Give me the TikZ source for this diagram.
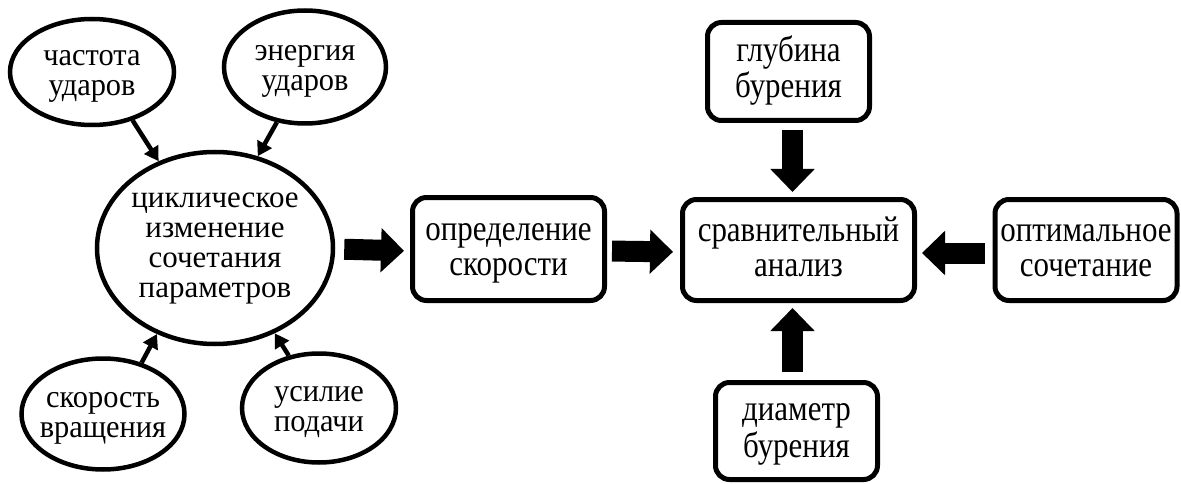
\documentclass[tikz,border=0pt]{standalone}
\usepackage{fontspec}
\setmainfont{Liberation Serif}
\newfontfamily\ovalfont[FakeStretch=0.95]{Liberation Serif}
\newfontfamily\boxfont[FakeStretch=0.86]{Liberation Serif}
\newcommand\mltext[1]{\makebox[0pt]{\begin{tabular}[b]{@{}c@{}}#1\end{tabular}}}
\usetikzlibrary{arrows.meta,shapes.geometric}
\begin{document}
\begin{tikzpicture}[x=1pt,y=-1pt,
  oval/.style={ellipse, draw, line width=4.5pt, inner sep=0pt,
    font=\ovalfont\fontsize{32}{30}\selectfont, text height=47pt, text depth=0pt},
  bigoval/.style={oval, font=\rmfamily\fontsize{31}{30}\selectfont, text height=98pt},
  rbox/.style={draw, rectangle, rounded corners=14pt, line width=5pt, inner sep=0pt,
    font=\boxfont\fontsize{36}{35}\selectfont, text height=52pt, text depth=0pt},
  thinarrow/.style={line width=4.5pt, -{Triangle[length=14pt,width=16pt]}},
  blockarrow/.style={line width=21pt, -{Triangle[length=23pt,width=43pt]}}]
\useasboundingbox (0,0) rectangle (1181,484);
% ovals
\node[oval, minimum width=164pt, minimum height=106pt] (chast) at (92,72) {\mltext{частота\\ударов}};
\node[oval, minimum width=162pt, minimum height=113pt] (energ) at (305,67) {\mltext{энергия\\ударов}};
\node[bigoval, minimum width=236pt, minimum height=192pt] (big) at (215,248) {\mltext{циклическое\\изменение\\сочетания\\параметров}};
\node[oval, minimum width=163pt, minimum height=111pt] (skor) at (103,414) {\mltext{скорость\\вращения}};
\node[oval, minimum width=154pt, minimum height=109pt] (usil) at (319,408) {\mltext{усилие\\подачи}};
% boxes
\node[rbox, minimum width=192pt, minimum height=103pt] (opr) at (508.5,249) {\mltext{определение\\скорости}};
\node[rbox, minimum width=232pt, minimum height=101pt] (srav) at (798.5,250) {\mltext{сравнительный\\анализ}};
\node[rbox, minimum width=162pt, minimum height=98pt] (glub) at (788.5,71.5) {\mltext{глубина\\бурения}};
\node[rbox, minimum width=182pt, minimum height=101pt] (opt) at (1086,250) {\mltext{оптимальное\\сочетание}};
\node[rbox, minimum width=162pt, minimum height=97pt] (diam) at (796.5,431) {\mltext{диаметр\\бурения}};
% thin arrows
\draw[thinarrow] (chast.-50) -- (big.123);
\draw[thinarrow] (energ.-117) -- (big.65);
\draw[thinarrow] (skor.53) -- (big.-124);
\draw[thinarrow] (usil.120) -- (big.-55);
% block arrows
\draw[blockarrow, shorten <=9pt, shorten >=6pt] ([yshift=-1pt]big.east) -- ([yshift=-2pt]opr.west);
\draw[blockarrow, shorten <=5pt, shorten >=7pt] ([yshift=-2pt]opr.east) -- ([yshift=-2pt]srav.west);
\draw[blockarrow, shorten <=7pt, shorten >=5pt] ([xshift=4pt]glub.south) -- ([xshift=-6pt]srav.north);
\draw[blockarrow, shorten <=8pt, shorten >=5pt] ([xshift=-4pt]diam.north) -- ([xshift=-6pt]srav.south);
\draw[blockarrow, shorten <=8pt, shorten >=5pt] ([yshift=-3pt]opt.west) -- ([yshift=-3pt]srav.east);
\end{tikzpicture}
\end{document}
